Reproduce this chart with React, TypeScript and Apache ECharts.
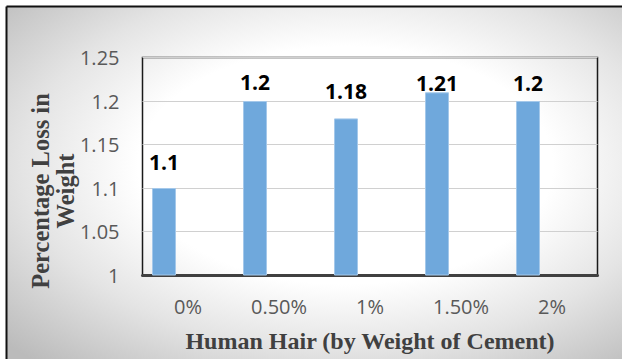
import React, { useEffect, useRef } from "react";
import * as echarts from "echarts";

const categories = ["0%", "0.50%", "1%", "1.50%", "2%"];
const lossValues = [1.1, 1.2, 1.18, 1.21, 1.2];
const yMin = 1;
const yMax = 1.25;
const yStep = 0.05;
const xTitle = "Human Hair (by Weight of Cement)";
const yTitle = "Percentage Loss in\nWeight";

// extra vertical label shifts (style, px)
const labelShift = [-11, -4, -12, 6, -3];

export default function App() {
  const ref = useRef<HTMLDivElement>(null);
  useEffect(() => {
    if (!ref.current) return;
    const chart = echarts.init(ref.current, undefined, { renderer: "svg" });
    const tickColor = "#595959";
    const titleColor = "#404040";
    chart.setOption({
      animation: false,
      backgroundColor: "#ffffff",
      graphic: [
        {
          type: "rect",
          z: -100,
          silent: true,
          shape: { x: 7, y: 7, width: 615, height: 352 },
          style: {
            fill: new echarts.graphic.RadialGradient(0.55, 0.45, 0.75, [
              { offset: 0, color: "#ffffff" },
              { offset: 0.45, color: "#ffffff" },
              { offset: 0.7, color: "#e4e4e4" },
              { offset: 1, color: "#bbbbbb" },
            ]),
          },
        },
        {
          type: "line",
          z: 100,
          silent: true,
          shape: { x1: 6.5, y1: 6.5, x2: 6.5, y2: 359 },
          style: { stroke: "#111", lineWidth: 2 },
        },
        {
          type: "line",
          z: 100,
          silent: true,
          shape: { x1: 6.5, y1: 6.5, x2: 622, y2: 6.5 },
          style: { stroke: "#111", lineWidth: 2 },
        },
        {
          type: "text",
          z: 100,
          silent: true,
          x: 53,
          y: 191,
          rotation: Math.PI / 2,
          style: {
            text: yTitle,
            fill: titleColor,
            fontSize: 24.5,
            fontWeight: "bold",
            fontFamily: "Liberation Serif",
            lineHeight: 25,
            align: "center",
            verticalAlign: "middle",
          },
        },
      ],
      grid: {
        left: 142.5,
        right: 24.5,
        top: 57.5,
        bottom: 84,
        containLabel: false,
        show: true,
        borderColor: "#1a1a1a",
        borderWidth: 1.5,
        backgroundColor: "transparent",
      },
      xAxis: {
        type: "category",
        data: categories,
        axisTick: { show: false },
        axisLine: { lineStyle: { color: "#404040", width: 3 } },
        axisLabel: {
          color: tickColor,
          fontSize: 20,
          fontFamily: "Open Sans",
          margin: 21,
        },
        name: xTitle,
        nameLocation: "middle",
        nameGap: 54,
        nameTextStyle: {
          color: titleColor,
          fontSize: 24,
          fontWeight: "bold",
          fontFamily: "Liberation Serif",
        },
      },
      yAxis: {
        type: "value",
        min: yMin,
        max: yMax,
        interval: yStep,
        axisLine: { show: false },
        axisTick: { show: false },
        splitLine: { lineStyle: { color: "#d0d0d0", width: 1 } },
        axisLabel: {
          color: tickColor,
          fontSize: 20,
          fontFamily: "Open Sans",
          margin: 23,
        },
      },
      series: [
        {
          type: "bar",
          barWidth: 24,
          barGap: "0%",
          data: lossValues.map((v, i) => ({
            value: v,
            label: { offset: [0, labelShift[i]] },
          })),
          itemStyle: { color: "#6fa8dc", borderColor: "#a4c8ea", borderWidth: 1 },
          label: {
            show: true,
            position: "top",
            color: "#000",
            fontSize: 21,
            fontWeight: "bold",
            fontFamily: "Open Sans",
          },
        },
        { type: "bar", barWidth: 24, barGap: "0%", data: lossValues.map(() => "-") },
        { type: "bar", barWidth: 24, barGap: "0%", data: lossValues.map(() => "-") },
      ],
    });
    return () => chart.dispose();
  }, []);
  return (
    <div
      ref={ref}
      style={{ position: "fixed", left: 0, top: 0, width: 622, height: 359 }}
    />
  );
}
